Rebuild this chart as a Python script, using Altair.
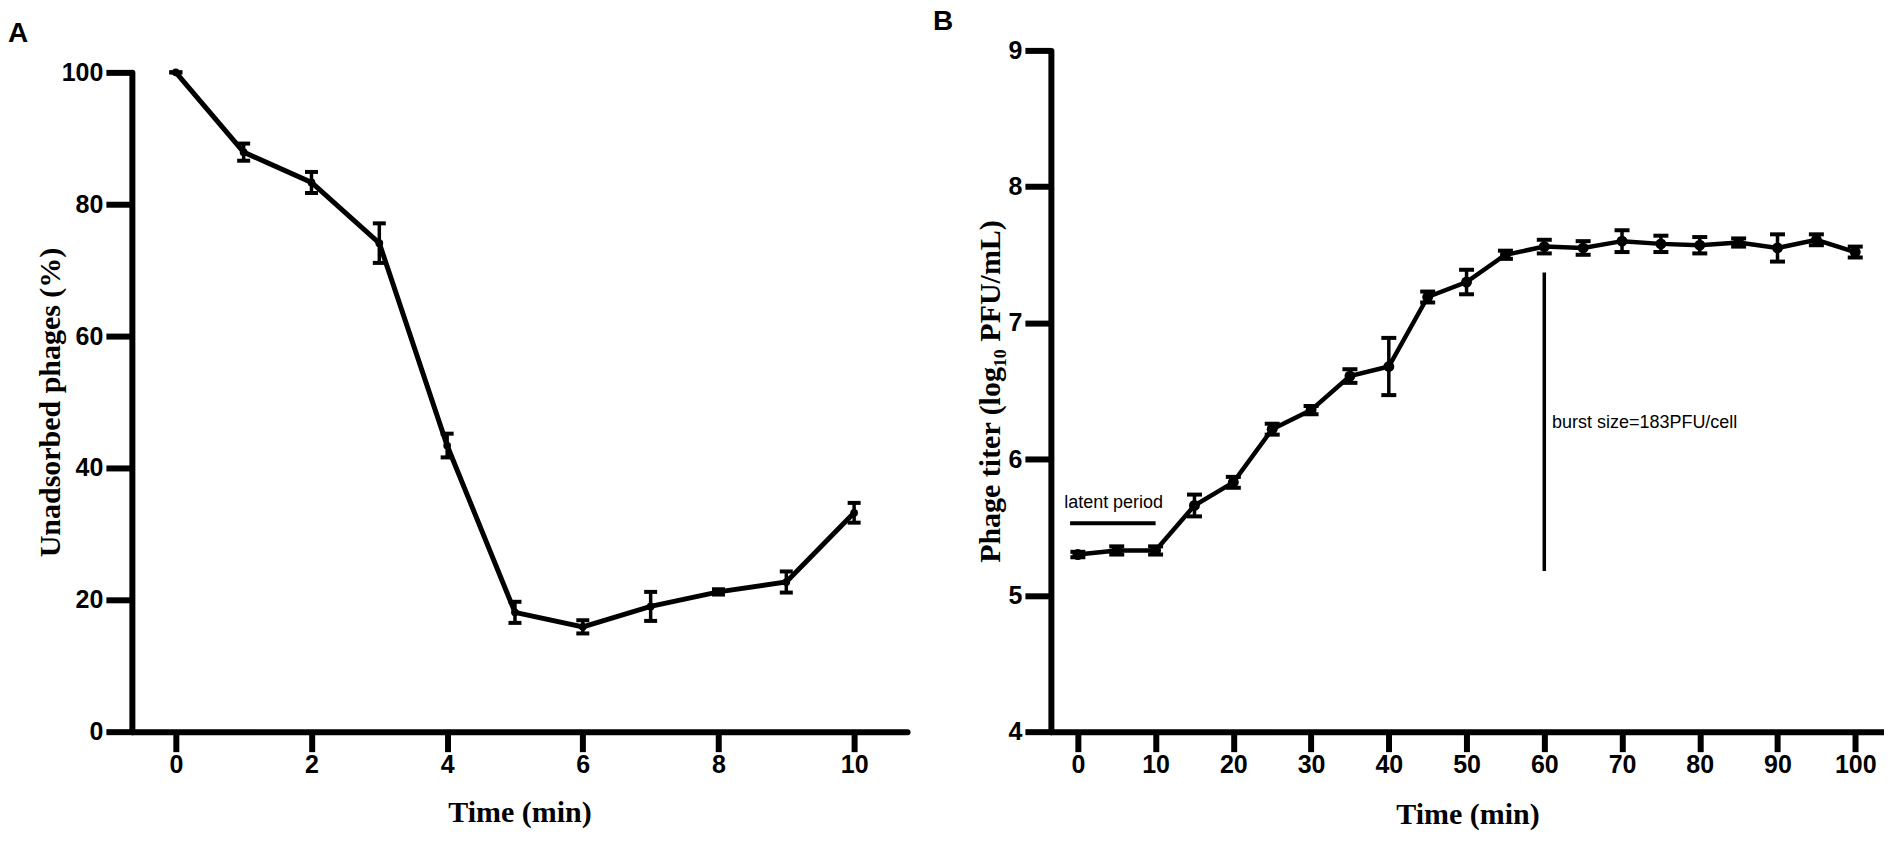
import altair as alt
import pandas as pd

# ---------------- Panel A: adsorption ----------------
a_time = [0, 1, 2, 3, 4, 5, 6, 7, 8, 9, 10]
a_value = [100, 87.9, 83.3, 74.1, 43.4, 18.1, 15.9, 19.0, 21.2, 22.7, 33.2]
a_err = [0, 1.3, 1.6, 3.0, 1.8, 1.6, 1.0, 2.2, 0.4, 1.6, 1.5]
a_xticks = [0, 2, 4, 6, 8, 10]
a_yticks = [0, 20, 40, 60, 80, 100]

# ---------------- Panel B: one-step growth ----------------
b_time = [0, 5, 10, 15, 20, 25, 30, 35, 40, 45, 50, 55, 60, 65, 70, 75, 80, 85, 90, 95, 100]
b_value = [5.30, 5.33, 5.33, 5.66, 5.83, 6.22, 6.36, 6.61, 6.68, 7.19, 7.30,
           7.50, 7.56, 7.55, 7.60, 7.58, 7.57, 7.59, 7.55, 7.61, 7.52]
b_err = [0.02, 0.03, 0.03, 0.08, 0.04, 0.04, 0.03, 0.05, 0.21, 0.04, 0.09,
         0.03, 0.05, 0.05, 0.08, 0.06, 0.06, 0.03, 0.10, 0.04, 0.04]
b_xticks = [0, 10, 20, 30, 40, 50, 60, 70, 80, 90, 100]
b_yticks = [4, 5, 6, 7, 8, 9]

# annotations (data coordinates)
latent_x = [-1, 10]
latent_y = [5.53]
latent_label = ["latent period"]
latent_label_pos = [4.6, 5.68]
burst_x = [60]
burst_y = [5.18, 7.37]
burst_label = ["burst size=183PFU/cell"]
burst_label_pos = [61, 6.265]

LABEL_FONT = "Liberation Sans, Arial, sans-serif"
TITLE_FONT = "Liberation Serif, Times New Roman, serif"
LETTER_FONT = "Liberation Sans, Arial, sans-serif"

PLOT_H = 682


def panel(times, values, errs, xdomain, ydomain, yrange, xticks, yticks, ytitle,
          ytitle_pad, width, letter, letter_dx, xtitle_pad, line_w, pt_size, cap_size):
    df = pd.DataFrame({
        "t": times,
        "v": values,
        "lo": [v - e for v, e in zip(values, errs)],
        "hi": [v + e for v, e in zip(values, errs)],
    })
    x = alt.X("t:Q",
              scale=alt.Scale(domain=xdomain, nice=False, zero=False),
              axis=alt.Axis(values=xticks, title="Time (min)", tickSize=20,
                            labelPadding=1, titlePadding=xtitle_pad,
                            labelFlush=False, format="d"))
    y = alt.Y("v:Q",
              scale=alt.Scale(domain=ydomain, range=yrange, nice=False, zero=False),
              axis=alt.Axis(values=yticks, title=ytitle, tickSize=26,
                            labelPadding=3, titlePadding=ytitle_pad,
                            labelFlush=False, format="d"))
    base = alt.Chart(df)
    line = base.mark_line(color="black", strokeWidth=line_w).encode(x=x, y=y)
    bar = base.mark_rule(color="black", strokeWidth=3.5, opacity=1).encode(
        x="t:Q", y="lo:Q", y2="hi:Q")
    cap_lo = base.mark_tick(color="black", orient="horizontal", size=cap_size,
                            thickness=4, opacity=1).encode(x="t:Q", y="lo:Q")
    cap_hi = base.mark_tick(color="black", orient="horizontal", size=cap_size,
                            thickness=4, opacity=1).encode(x="t:Q", y="hi:Q")
    pts = base.mark_point(filled=True, color="black", size=pt_size,
                          opacity=1, shape="circle").encode(x="t:Q", y="v:Q")
    layers = [line, bar, cap_lo, cap_hi, pts]
    return layers, dict(
        width=width, height=PLOT_H,
        title=alt.Title(letter, anchor="start", frame="group", dx=letter_dx,
                        offset=2, fontSize=28, font=LETTER_FONT,
                        fontWeight="bold", color="black"))


a_layers, a_props = panel(a_time, a_value, a_err, [-0.648, 10.78], [0, 100],
                          [PLOT_H, 22], a_xticks, a_yticks, "Unadsorbed phages (%)", -4,
                          776, "A", -124, 20, 5, 60, 13)
chart_a = alt.layer(*a_layers).properties(**a_props)

b_layers, b_props = panel(b_time, b_value, b_err, [-3.47, 103.7], [4, 9],
                          [PLOT_H, 0], b_xticks, b_yticks,
                          "Phage titer (log\u2081\u2080 PFU/mL)", 3,
                          834, "B", -118, 22, 4.5, 120, 15)

lat_df = pd.DataFrame({"x1": [latent_x[0]], "x2": [latent_x[1]], "y": latent_y})
lat_rule = alt.Chart(lat_df).mark_rule(color="black", strokeWidth=4).encode(
    x="x1:Q", x2="x2:Q", y="y:Q")
lat_txt_df = pd.DataFrame({"x": [latent_label_pos[0]], "y": [latent_label_pos[1]],
                           "s": latent_label})
lat_txt = alt.Chart(lat_txt_df).mark_text(
    font=LETTER_FONT, fontSize=18, color="black", align="center",
    baseline="middle").encode(x="x:Q", y="y:Q", text="s:N")
burst_df = pd.DataFrame({"x": burst_x, "y1": [burst_y[0]], "y2": [burst_y[1]]})
burst_rule = alt.Chart(burst_df).mark_rule(color="black", strokeWidth=3.5).encode(
    x="x:Q", y="y1:Q", y2="y2:Q")
burst_txt_df = pd.DataFrame({"x": [burst_label_pos[0]], "y": [burst_label_pos[1]],
                             "s": burst_label})
burst_txt = alt.Chart(burst_txt_df).mark_text(
    font=LETTER_FONT, fontSize=18, color="black", align="left",
    baseline="middle").encode(x="x:Q", y="y:Q", text="s:N")

chart_b = alt.layer(*b_layers, lat_rule, lat_txt, burst_rule, burst_txt).properties(**b_props)

chart = alt.hconcat(chart_a, chart_b, spacing=26).properties(
    padding={"left": 0, "top": 0, "right": 0, "bottom": 0}
).configure_view(stroke=None).configure_axis(
    grid=False,
    domainColor="black", domainWidth=6, domainCap="round",
    tickColor="black", tickWidth=6,
    labelFont=LABEL_FONT, labelFontSize=25, labelFontWeight="bold",
    labelColor="black",
    titleFont=TITLE_FONT, titleFontSize=30, titleFontWeight="bold",
    titleColor="black",
)

chart.save("out.html", embed_options={"renderer": "svg", "actions": False})
